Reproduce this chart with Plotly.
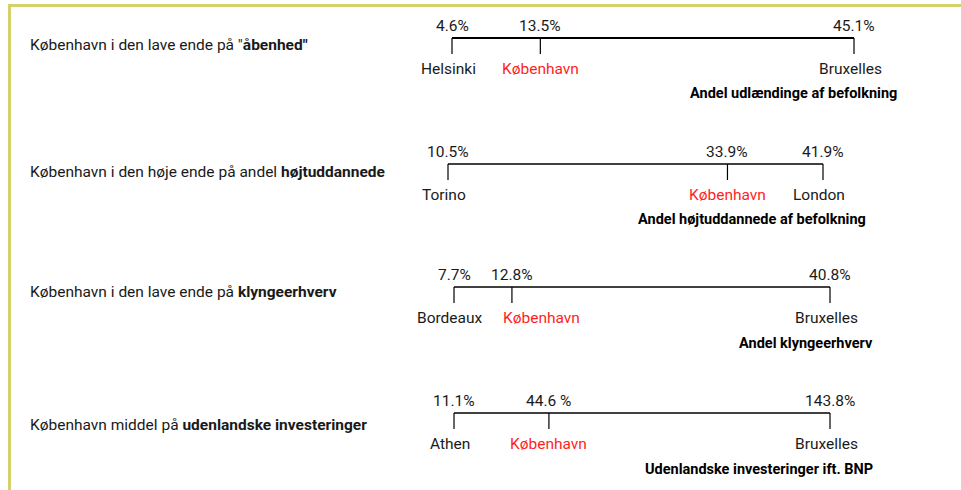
import plotly.graph_objects as go

# ---------------- data ----------------
row_titles = [
    'København i den lave ende på "<b>åbenhed"</b>',
    'København i den høje ende på andel <b>højtuddannede</b>',
    'København i den lave ende på <b>klyngeerhverv</b>',
    'København middel på <b>udenlandske investeringer</b>',
]
metric_labels = [
    "Andel udlændinge af befolkning",
    "Andel højtuddannede af befolkning",
    "Andel klyngeerhverv",
    "Udenlandske investeringer ift. BNP",
]
cities = [
    ["Helsinki", "København", "Bruxelles"],
    ["Torino", "København", "London"],
    ["Bordeaux", "København", "Bruxelles"],
    ["Athen", "København", "Bruxelles"],
]
values = [
    [4.6, 13.5, 45.1],
    [10.5, 33.9, 41.9],
    [7.7, 12.8, 40.8],
    [11.1, 44.6, 143.8],
]
value_labels = [
    ["4.6%", "13.5%", "45.1%"],
    ["10.5%", "33.9%", "41.9%"],
    ["7.7%", "12.8%", "40.8%"],
    ["11.1%", "44.6 %", "143.8%"],
]
highlight = "København"

# ---------------- layout / style ----------------
W, H = 961, 490
FONT = "Roboto"
TXT = "#1a1a1a"
RED = "#ff1f1f"
YELLOW = "#d6d06c"
# pixel placement of each panel's scale (left end, right end, line y)
panel_px = [(452, 854, 38), (448, 823, 164), (454, 830, 287), (454, 830, 413)]
line_widths = [2, 1.3, 1.3, 1.3]
title_shift = [-7, -8, -5, -12]
# horizontal nudge of the highlighted city label (to keep labels apart)
highlight_nudge = [0, 0, 30, 0]
PAD = 20  # px padding around each scale

fig = go.Figure()
annotations = []
layout_axes = {}

for i in range(4):
    n = i + 1
    xa = "x" if n == 1 else f"x{n}"
    ya = "y" if n == 1 else f"y{n}"
    x0p, x1p, yp = panel_px[i]
    vals = values[i]
    vmin, vmax = min(vals), max(vals)
    scale = (x1p - x0p) / (vmax - vmin)
    layout_axes["xaxis" if n == 1 else f"xaxis{n}"] = dict(
        domain=[(x0p - PAD) / W, (x1p + PAD) / W],
        range=[vmin - PAD / scale, vmax + PAD / scale],
        visible=False, fixedrange=True, anchor=ya,
    )
    layout_axes["yaxis" if n == 1 else f"yaxis{n}"] = dict(
        domain=[(H - (yp + 30)) / H, (H - (yp - 30)) / H],
        range=[-30, 30],
        visible=False, fixedrange=True, anchor=xa,
    )
    # horizontal scale line
    fig.add_trace(go.Scatter(
        x=[vmin, vmax], y=[0, 0], mode="lines",
        line=dict(color="black", width=line_widths[i]), xaxis=xa, yaxis=ya,
        hoverinfo="skip", showlegend=False,
    ))
    # ticks
    tx, ty = [], []
    for v in vals:
        tx += [v, v, None]
        ty += [0, -16, None]
    fig.add_trace(go.Scatter(
        x=tx, y=ty, mode="lines",
        line=dict(color="black", width=1.2), xaxis=xa, yaxis=ya,
        hoverinfo="skip", showlegend=False,
    ))
    for v, lab, city in zip(vals, value_labels[i], cities[i]):
        is_hl = city == highlight
        annotations.append(dict(
            x=v, y=0, xref=xa, yref=ya, text=lab, showarrow=False,
            xanchor="center", yanchor="middle", yshift=12, xshift=0,
            font=dict(family=FONT, size=15.5, color=TXT),
        ))
        annotations.append(dict(
            x=v, y=0, xref=xa, yref=ya, text=city, showarrow=False,
            xanchor="center", yanchor="middle", yshift=-31,
            xshift=(highlight_nudge[i] if is_hl else -4),
            font=dict(family=FONT, size=15.5, color=RED if is_hl else TXT),
        ))
    annotations.append(dict(
        x=vmax, y=0, xref=xa, yref=ya, text=f"<b>{metric_labels[i]}</b>",
        showarrow=False, xanchor="right", yanchor="middle", yshift=-56, xshift=45,
        font=dict(family=FONT, size=14.5, color="black"),
    ))
    annotations.append(dict(
        x=28 / W, y=0, xref="paper", yref=ya, text=row_titles[i],
        showarrow=False, xanchor="left", yanchor="middle", yshift=title_shift[i],
        font=dict(family=FONT, size=15.5, color=TXT),
    ))

shapes = [
    dict(type="line", xref="paper", yref="paper", x0=8 / W, x1=1, y0=(H - 5.5) / H, y1=(H - 5.5) / H,
         line=dict(color=YELLOW, width=3)),
    dict(type="line", xref="paper", yref="paper", x0=9.5 / W, x1=9.5 / W, y0=0, y1=(H - 4) / H,
         line=dict(color=YELLOW, width=3)),
]

fig.update_layout(
    width=W, height=H, margin=dict(l=0, r=0, t=0, b=0),
    paper_bgcolor="white", plot_bgcolor="rgba(0,0,0,0)",
    annotations=annotations, shapes=shapes, showlegend=False,
    **layout_axes,
)
fig.write_html(
    "out.html",
    config={"displayModeBar": False},
    post_script="document.body.style.margin='0';document.body.style.overflow='hidden';",
)
